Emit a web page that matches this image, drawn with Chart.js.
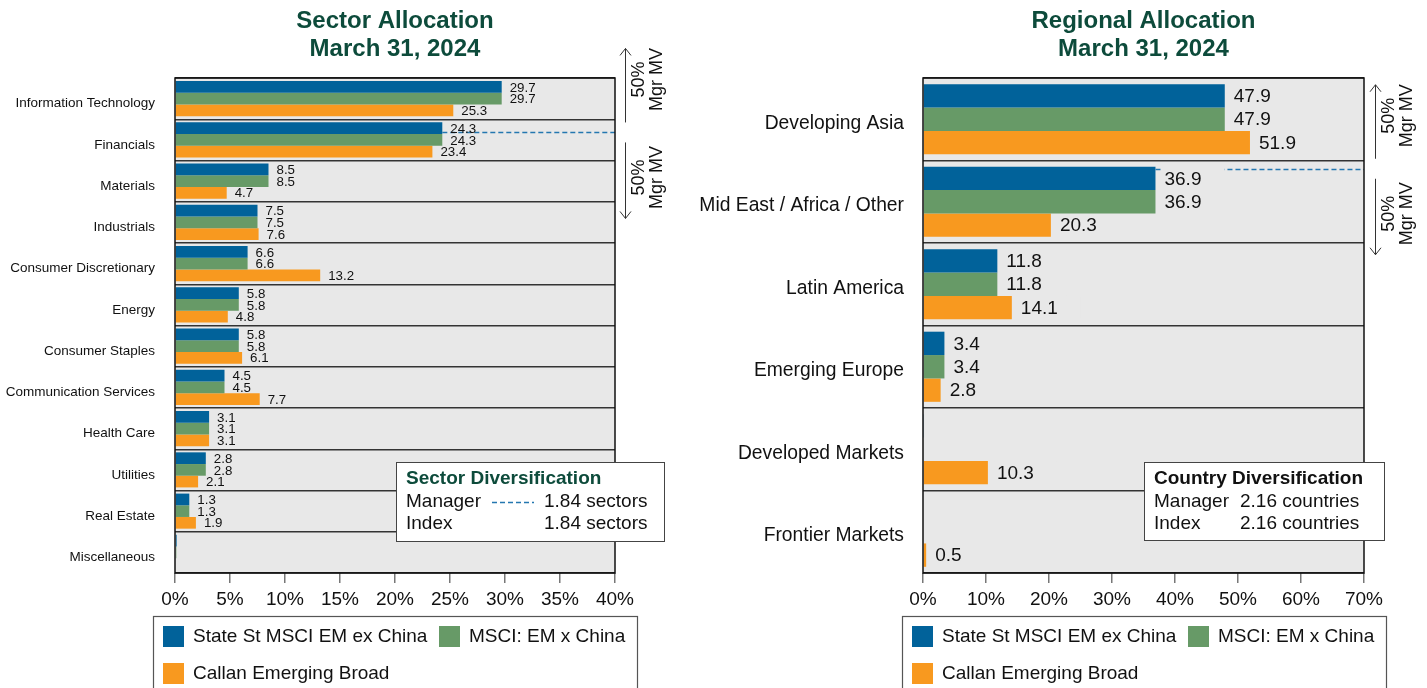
<!DOCTYPE html>
<html><head><meta charset="utf-8">
<script src="https://cdn.jsdelivr.net/npm/chart.js@4.4.0/dist/chart.umd.min.js"></script>
<style>
html,body{margin:0;padding:0;background:#fff;width:1427px;height:688px;overflow:hidden;}
canvas{position:absolute;left:0;top:0;}
</style></head><body>
<canvas id="c1" width="1427" height="688"></canvas>
<canvas id="c2" width="1427" height="688"></canvas>
<script>
// ---------- DATA ----------
const seriesNames = ['State St MSCI EM ex China', 'MSCI: EM x China', 'Callan Emerging Broad'];

const sectorCategories = ['Information Technology','Financials','Materials','Industrials','Consumer Discretionary','Energy','Consumer Staples','Communication Services','Health Care','Utilities','Real Estate','Miscellaneous'];
const sectorStateSt = [29.7, 24.3, 8.5, 7.5, 6.6, 5.8, 5.8, 4.5, 3.1, 2.8, 1.3, 0.15];
const sectorMSCI    = [29.7, 24.3, 8.5, 7.5, 6.6, 5.8, 5.8, 4.5, 3.1, 2.8, 1.3, 0.12];
const sectorCallan  = [25.3, 23.4, 4.7, 7.6, 13.2, 4.8, 6.1, 7.7, 3.1, 2.1, 1.9, 0];
const sectorTicks = [0, 5, 10, 15, 20, 25, 30, 35, 40];
const sectorManagerLine = 0.82;   // category coordinate of manager 50% line
const sectorDiversification = {title:'Sector Diversification', manager:'1.84 sectors', index:'1.84 sectors'};

const regionCategories = ['Developing Asia','Mid East / Africa / Other','Latin America','Emerging Europe','Developed Markets','Frontier Markets'];
const regionStateSt = [47.9, 36.9, 11.8, 3.4, 0.16, 0];
const regionMSCI    = [47.9, 36.9, 11.8, 3.4, 0.12, 0];
const regionCallan  = [51.9, 20.3, 14.1, 2.8, 10.3, 0.5];
const regionTicks = [0, 10, 20, 30, 40, 50, 60, 70];
const regionManagerLine = 0.6;
const regionDiversification = {title:'Country Diversification', manager:'2.16 countries', index:'2.16 countries'};

// ---------- STYLE ----------
const colors = ['#01629A', '#679A67', '#F8991F'];
const GREEN = '#0d4b3b';
const DASH = '#2477b0';
const FONT = "'Liberation Sans', Arial, sans-serif";
Chart.defaults.font.family = FONT;
Chart.defaults.color = '#000';

function makeChart(id, cfg) {
  const plugin = {
    id: 'custom_' + id,
    beforeDraw(chart) {
      const {ctx, chartArea: a} = chart;
      ctx.save();
      ctx.fillStyle = '#e8e8e8';
      ctx.fillRect(a.left, a.top, a.right - a.left, a.bottom - a.top);
      ctx.restore();
    },
    afterDatasetsDraw(chart) {
      const {ctx, chartArea: a, scales: {x, y}} = chart;
      ctx.save();
      // manager dashed line
      const dy = Math.round(y.getPixelForValue(cfg.linePos)) + 0.5;
      const dx0 = x.getPixelForValue(cfg.series[0][cfg.lineCat]);
      ctx.strokeStyle = DASH;
      ctx.lineWidth = 1.4;
      ctx.setLineDash([5, 3]);
      ctx.beginPath(); ctx.moveTo(dx0, dy); ctx.lineTo(a.right, dy); ctx.stroke();
      ctx.setLineDash([]);
      // value labels
      ctx.font = cfg.valFont + 'px ' + FONT;
      ctx.textBaseline = 'middle';
      ctx.textAlign = 'left';
      cfg.series.forEach((arr, i) => {
        const meta = chart.getDatasetMeta(i);
        meta.data.forEach((bar, j) => {
          const v = arr[j];
          if (v < 0.3) return;
          const tx = bar.x + cfg.valGap;
          if (cfg.labelBg) {
            ctx.fillStyle = '#e8e8e8';
            ctx.fillRect(tx - 2, bar.y - 11, 62, 22);
          }
          ctx.fillStyle = '#111';
          ctx.fillText(v.toFixed(1), tx, bar.y + 1);
        });
      });
      ctx.restore();
    },
    afterDraw(chart) {
      const {ctx, chartArea: a, scales: {y}} = chart;
      ctx.save();
      // frame
      ctx.strokeStyle = '#111'; ctx.lineWidth = 1.5;
      ctx.strokeRect(a.left, a.top, a.right - a.left, a.bottom - a.top);
      // titles
      ctx.fillStyle = GREEN;
      ctx.font = 'bold 24px ' + FONT;
      ctx.textAlign = 'center'; ctx.textBaseline = 'middle';
      const cx = (a.left + a.right) / 2;
      ctx.fillText(cfg.title, cx, 21);
      ctx.fillText('March 31, 2024', cx, 49);
      // arrows
      const dy = y.getPixelForValue(cfg.linePos);
      const ax = a.right + cfg.arrowDx;
      ctx.strokeStyle = '#333'; ctx.lineWidth = 1;
      ctx.beginPath();
      ctx.moveTo(ax + 0.5, dy - 84); ctx.lineTo(ax + 0.5, dy - 10);
      ctx.moveTo(ax - 5, dy - 77); ctx.lineTo(ax + 0.5, dy - 84); ctx.lineTo(ax + 6, dy - 77);
      ctx.moveTo(ax + 0.5, dy + 10); ctx.lineTo(ax + 0.5, dy + 86);
      ctx.moveTo(ax - 5, dy + 79); ctx.lineTo(ax + 0.5, dy + 86); ctx.lineTo(ax + 6, dy + 79);
      ctx.stroke();
      ctx.fillStyle = '#111';
      ctx.font = '18px ' + FONT;
      [dy - 53, dy + 45].forEach(ty => {
        ctx.save();
        ctx.translate(a.right + cfg.arrowTextDx, ty);
        ctx.rotate(-Math.PI / 2);
        ctx.textAlign = 'center'; ctx.textBaseline = 'middle';
        ctx.fillText('50%', 0, -9);
        ctx.fillText('Mgr MV', 0, 9);
        ctx.restore();
      });
      // diversification box
      const b = cfg.box;
      ctx.fillStyle = '#fff';
      ctx.fillRect(b.x, b.y, b.w, b.h);
      ctx.strokeStyle = '#444'; ctx.lineWidth = 1;
      ctx.strokeRect(b.x + 0.5, b.y + 0.5, b.w, b.h);
      ctx.textAlign = 'left'; ctx.textBaseline = 'middle';
      ctx.font = 'bold 19px ' + FONT;
      ctx.fillStyle = cfg.boxTitleColor;
      ctx.fillText(cfg.div.title, b.x + 10, b.y + 17);
      ctx.font = '19px ' + FONT;
      ctx.fillStyle = '#111';
      ctx.fillText('Manager', b.x + 10, b.y + 40);
      ctx.fillText('Index', b.x + 10, b.y + 62);
      ctx.fillText(cfg.div.manager, b.x + b.valDx, b.y + 40);
      ctx.fillText(cfg.div.index, b.x + b.valDx, b.y + 62);
      if (b.dash) {
        ctx.strokeStyle = DASH; ctx.lineWidth = 1.4; ctx.setLineDash([5, 3]);
        ctx.beginPath(); ctx.moveTo(b.x + 96, b.y + 40.5); ctx.lineTo(b.x + 138, b.y + 40.5); ctx.stroke();
        ctx.setLineDash([]);
      }
      // legend box
      const lx = a.left + cfg.legendDx;
      ctx.strokeStyle = '#555'; ctx.lineWidth = 1.2;
      ctx.strokeRect(lx + 0.5, 616.5, 484, 100);
      const items = [[0, 10, 636], [1, 286, 636], [2, 10, 673]];
      ctx.font = '19px ' + FONT;
      items.forEach(([i, ox, oy]) => {
        ctx.fillStyle = colors[i];
        ctx.fillRect(lx + ox, oy - 10, 21, 21);
        ctx.fillStyle = '#111';
        ctx.fillText(seriesNames[i], lx + ox + 30, oy + 1);
      });
      ctx.restore();
    }
  };

  return new Chart(document.getElementById(id), {
    type: 'bar',
    data: {
      labels: cfg.categories,
      datasets: cfg.series.map((d, i) => ({
        label: seriesNames[i], data: d, backgroundColor: colors[i], borderWidth: 0,
        categoryPercentage: 0.85, barPercentage: 1.0
      }))
    },
    options: {
      indexAxis: 'y', responsive: false, animation: false, devicePixelRatio: 1,
      layout: {padding: {left: 0, right: cfg.padRight, top: 78, bottom: 75}},
      plugins: {legend: {display: false}, tooltip: {enabled: false}, title: {display: false}},
      scales: {
        x: {
          type: 'linear', min: 0, max: cfg.ticks[cfg.ticks.length - 1],
          afterBuildTicks(s) { s.ticks = cfg.ticks.map(v => ({value: v})); },
          afterFit(s) { s.height = 40; },
          grid: {drawOnChartArea: false, drawTicks: true, tickLength: 10, tickColor: '#777', lineWidth: 1.5},
          border: {display: false},
          ticks: {font: {size: 19}, color: '#111', padding: 5, maxRotation: 0, autoSkip: false, callback: v => v + '%'}
        },
        y: {
          type: 'category',
          afterFit(s) { s.width = cfg.yWidth; },
          grid: {offset: true, color: '#333', lineWidth: 1.5, drawTicks: false},
          border: {display: false},
          ticks: {font: {size: cfg.catFont}, color: '#111', padding: cfg.catPad, labelOffset: cfg.labelOffset, autoSkip: false}
        }
      }
    },
    plugins: [plugin]
  });
}

makeChart('c1', {
  title: 'Sector Allocation',
  categories: sectorCategories,
  series: [sectorStateSt, sectorMSCI, sectorCallan],
  ticks: sectorTicks,
  linePos: sectorManagerLine, lineCat: 1,
  div: sectorDiversification, boxTitleColor: GREEN,
  box: {x: 396, y: 462, w: 268, h: 79, valDx: 148, dash: true},
  yWidth: 175, padRight: 1427 - 615, catFont: 13.5, catPad: 20, labelOffset: 5,
  valFont: 13.3, valGap: 8, labelBg: false,
  arrowDx: 10, arrowTextDx: 33, legendDx: -22
});

makeChart('c2', {
  title: 'Regional Allocation',
  categories: regionCategories,
  series: [regionStateSt, regionMSCI, regionCallan],
  ticks: regionTicks,
  linePos: regionManagerLine, lineCat: 1,
  div: regionDiversification, boxTitleColor: '#111',
  box: {x: 1144, y: 462, w: 240, h: 78, valDx: 96, dash: false},
  yWidth: 923, padRight: 1427 - 1364, catFont: 19.3, catPad: 19, labelOffset: 4,
  valFont: 19, valGap: 9, labelBg: true,
  arrowDx: 11, arrowTextDx: 34, legendDx: -21
});
</script>
</body></html>
